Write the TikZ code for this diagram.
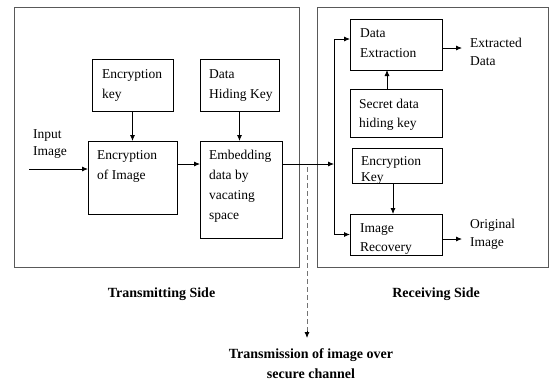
\documentclass[tikz,border=0pt]{standalone}
\usepackage{fontspec}
\setmainfont{Liberation Serif}
\usetikzlibrary{arrows.meta}
\begin{document}
\begin{tikzpicture}[x=1pt,y=-1pt,
  box/.style={draw=black, line width=0.8pt, anchor=north west, inner sep=0pt, outer sep=0pt},
  side/.style={draw=black!65, line width=1pt, anchor=north west, inner sep=0pt, outer sep=0pt},
  txt/.style={anchor=north west, inner sep=0pt, align=left, font=\fontsize{13.5}{20}\selectfont},
  tight/.style={font=\fontsize{13.5}{17.5}\selectfont},
  head/.style={anchor=base, inner sep=0pt, align=center, font=\fontsize{14}{20}\selectfont\bfseries},
  arr/.style={line width=0.8pt, -{Latex[length=6pt,width=5pt]}},
  wire/.style={line width=0.8pt}]
\useasboundingbox (0,0) rectangle (549,383);

% the two sides
\node[side, minimum width=285pt, minimum height=260pt] (tx) at (14,7) {};
\node[side, minimum width=231pt, minimum height=260pt] (rx) at (317,7) {};

% transmitting side boxes
\node[box, minimum width=81pt, minimum height=52pt] (ek) at (92,59) {};
\node[txt] (ekt) at (102,69) {Encryption\\key};
\node[box, minimum width=79pt, minimum height=52pt] (dhk) at (200,59) {};
\node[txt] (dhkt) at (209,69) {Data\\Hiding Key};
\node[box, minimum width=89pt, minimum height=73pt] (ei) at (88,141) {};
\node[txt] (eit) at (97,150) {Encryption\\of Image};
\node[box, minimum width=82pt, minimum height=97pt] (emb) at (200,141) {};
\node[txt] (embt) at (209,150) {Embedding\\data by\\vacating\\space};
\node[txt, tight] (inp) at (33,129) {Input\\Image};

% receiving side boxes
\node[box, minimum width=92pt, minimum height=51pt] (dex) at (350,19) {};
\node[txt] (dext) at (360,28) {Data\\Extraction};
\node[box, minimum width=92pt, minimum height=48pt] (sdk) at (350,89) {};
\node[txt, font=\fontsize{13.5}{19}\selectfont] (sdkt) at (359,99) {Secret data\\hiding key};
\node[box, minimum width=90pt, minimum height=35pt] (rek) at (352,148) {};
\node[txt, font=\fontsize{13.5}{16.5}\selectfont] (rekt) at (361,156) {Encryption\\Key};
\node[box, minimum width=92pt, minimum height=41pt] (rec) at (350,214) {};
\node[txt, font=\fontsize{13.5}{19}\selectfont] (rect) at (360,223) {Image\\Recovery};
\node[txt, font=\fontsize{13.5}{18}\selectfont] (xdt) at (470,38) {Extracted\\Data};
\node[txt, font=\fontsize{13.5}{18}\selectfont] (oit) at (470,219) {Original\\Image};

% captions (base anchor of a two-line node sits on its last line)
\node[head] (txl) at (161.5,297) {Transmitting Side};
\node[head] (rxl) at (436,297) {Receiving Side};
\node[head] (chl) at (311,378) {Transmission of image over\\secure channel};

% helper points
\coordinate (in) at (29,169);
\coordinate (lvl) at (0,164);
\coordinate (j) at (334,164);
\coordinate (jtop) at (0,39);
\coordinate (xd) at (462,48);
\coordinate (oi) at (462,239);
\coordinate (d0) at (307,167);
\coordinate (d1) at (307,331);
\coordinate (d2) at (307,338);

% transmitting side flow
\draw[arr] (ek.south) -- (ek.south |- ei.north);
\draw[arr] (dhk.south) -- (dhk.south |- emb.north);
\draw[arr] (in) -- (in -| ei.west);
\draw[arr] (ei.east |- lvl) -- (emb.west |- lvl);
\draw[arr] (emb.east |- lvl) -- (j);

% channel: dashed shaft with a solid head
\draw[line width=0.8pt, black!55, dash pattern=on 5pt off 3pt] (d0) -- (d1);
\draw[line width=0.8pt, black, -{Latex[length=6pt,width=5pt]}] (d1) -- (d2);

% receiving side flow
\draw[arr] (j) |- (dex.west |- jtop);
\draw[arr] (j) |- (rec.west);
\draw[arr] ([xshift=-9pt]sdk.north) -- ([xshift=-9pt]sdk.north |- dex.south);
\draw[arr] ([xshift=-4pt]rek.south) -- ([xshift=-4pt]rek.south |- rec.north);
\draw[arr] (dex.east |- xd) -- (xd);
\draw[arr] (rec.east |- oi) -- (oi);
\end{tikzpicture}
\end{document}
